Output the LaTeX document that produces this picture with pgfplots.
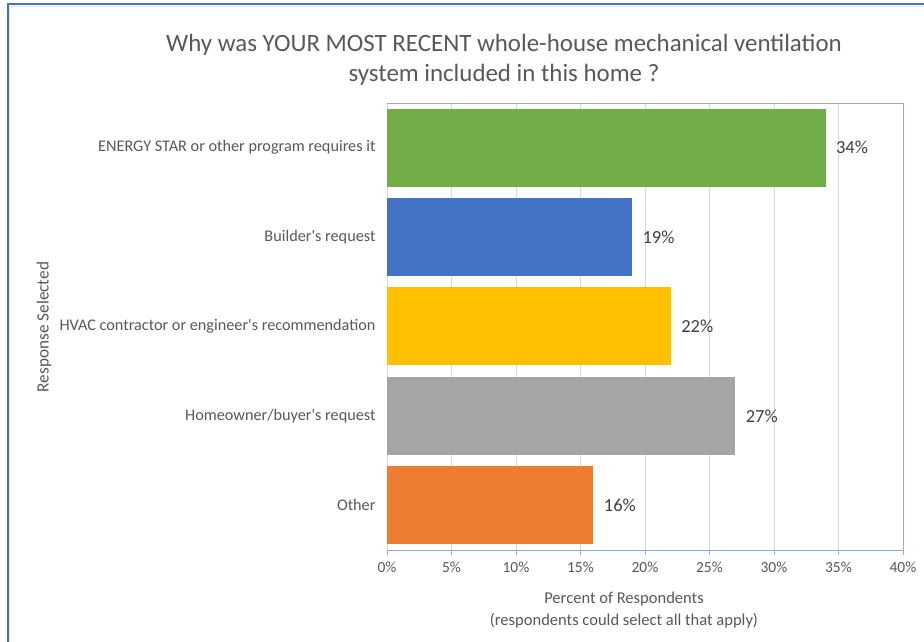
\documentclass[border=0pt]{standalone}
\usepackage{pgfplots}
\pgfplotsset{compat=1.18}
\usepackage{fontspec}
\setmainfont{Carlito}
\definecolor{cgreen}{HTML}{70AD47}
\definecolor{cblue}{HTML}{4472C4}
\definecolor{cyellow}{HTML}{FFC000}
\definecolor{cgray}{HTML}{A5A5A5}
\definecolor{corange}{HTML}{ED7D31}
\definecolor{txt}{HTML}{595959}
\definecolor{dlab}{HTML}{404040}
\definecolor{gridc}{HTML}{D9D9D9}
\definecolor{framec}{HTML}{4472C4}
\definecolor{pborder}{HTML}{8EA9DB}
\begin{document}
\begin{tikzpicture}[x=1bp,y=1bp]
\useasboundingbox (0,0) rectangle (924,642);
\fill[white] (0,0) rectangle (924,642);
% chart frame (left and top edges visible)
\draw[line width=1.2bp, color=gridc!70] (9.8,-5) -- (9.8,635.5) -- (930,635.5);
\draw[line width=2bp, color=framec] (7.5,-5) -- (7.5,637.5) -- (930,637.5);
\coordinate (A) at (387,92);
\begin{axis}[
  at={(A)}, anchor=south west,
  scale only axis, width=516bp, height=447bp,
  xmin=0, xmax=40, ymin=-0.5, ymax=4.5,
  y dir=reverse,
  xbar, bar width=78bp, bar shift=0pt,
  xtick={0,5,...,40},
  xticklabel={\pgfmathprintnumber{\tick}\%},
  /pgf/number format/assume math mode=true,
  ytick={0,1,2,3,4},
  yticklabels={ENERGY STAR or other program requires it, Builder\textquotesingle s request, HVAC contractor or engineer\textquotesingle s recommendation, Homeowner/buyer\textquotesingle s request, Other},
  ytick style={draw=none},
  xtick style={draw=gray!70, line width=0.8bp},
  tick align=outside, major tick length=5bp,
  xtick pos=bottom,
  tick label style={text=txt},
  xticklabel style={font=\fontsize{15.5}{18}\selectfont, yshift=-3bp},
  yticklabel style={font=\fontsize{16.3}{18}\selectfont, xshift=-3bp},
  xmajorgrids, grid style={draw=gridc, line width=0.8bp},
  axis line style={draw=none},
  clip=false,
  nodes near coords={\pgfmathprintnumber{\pgfplotspointmeta}\%},
  point meta=explicit,
  nodes near coords style={font=\fontsize{18.5}{20}\selectfont, text=dlab, anchor=west, xshift=7bp},
]
\draw[line width=0.8bp, color=gridc] (rel axis cs:0,0) -- (rel axis cs:0,1);
\addplot[fill=cgreen, draw=none] coordinates {(34,0) [34]};
\addplot[fill=cblue, draw=none] coordinates {(19,1) [19]};
\addplot[fill=cyellow, draw=none] coordinates {(22,2) [22]};
\addplot[fill=cgray, draw=none] coordinates {(27,3) [27]};
\addplot[fill=corange, draw=none] coordinates {(16,4) [16]};
\draw[line width=0.9bp, color=gray!70] (rel axis cs:0,1) -- (rel axis cs:1,1);
\draw[line width=1bp, color=pborder] (rel axis cs:0,0) -- (rel axis cs:1,0) -- (rel axis cs:1,1);
\end{axis}
\node[text=txt, font=\fontsize{25}{30.5}\selectfont, align=center] at (504,582) {Why was YOUR MOST RECENT whole-house mechanical ventilation\\system included in this home ?};
\node[text=txt, font=\fontsize{16.6}{22.5}\selectfont, align=center] at (624,32) {Percent of Respondents\\(respondents could select all that apply)};
\node[text=txt, font=\fontsize{17.3}{20}\selectfont, rotate=90] at (44,315) {Response Selected};
\end{tikzpicture}
\end{document}
